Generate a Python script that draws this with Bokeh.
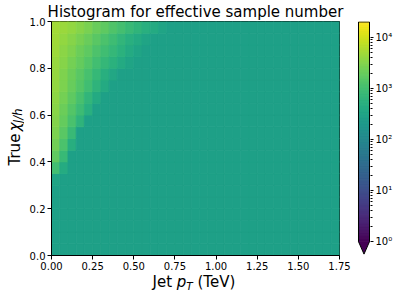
import numpy as np
from bokeh.plotting import figure
from bokeh.models import (Range1d, FixedTicker, NumeralTickFormatter, Label, Title,
                          ColumnDataSource, LogColorMapper)
from bokeh.layouts import row, column
from bokeh.palettes import Viridis256
from bokeh.embed import file_html
from bokeh.resources import INLINE

# ---------------- data ----------------
X_MIN, X_MAX, X_BIN = 0.0, 1.75, 0.05
Y_MIN, Y_MAX, Y_BIN = 0.0, 1.0, 0.05
base_count = 280          # effective sample number in the flat region
# counts of the leftmost bins of the upper rows (named by row's lower y edge);
# bins not listed hold base_count
row_095 = [5000, 4500, 4000, 3300, 2700, 2100, 1700, 1300, 1050, 830, 660, 520, 420, 330]
row_090 = [4800, 4000, 3300, 2600, 2100, 1600, 1200, 910, 690, 520, 420, 330]
row_085 = [4600, 3600, 2900, 2200, 1700, 1250, 950, 720, 550, 420, 330]
row_080 = [4400, 3300, 2500, 1900, 1400, 1000, 720, 550, 420, 330]
row_075 = [4200, 3000, 2200, 1600, 1100, 760, 520, 380]
row_070 = [4000, 2800, 2000, 1400, 950, 630, 420]
row_065 = [3700, 2500, 1700, 1100, 690, 420]
row_060 = [3500, 2200, 1400, 890, 520]
row_055 = [3200, 1900, 1150, 630]
row_050 = [2800, 1600, 830]
row_045 = [2400, 1200, 500]
row_040 = [1800, 790]
row_035 = [1000, 450]
row_030 = [330]
upper_rows = {19: row_095, 18: row_090, 17: row_085, 16: row_080, 15: row_075,
              14: row_070, 13: row_065, 12: row_060, 11: row_055, 10: row_050,
              9: row_045, 8: row_040, 7: row_035, 6: row_030}

title_text = "Histogram for effective sample number"
x_ticks = [0.0, 0.25, 0.5, 0.75, 1.0, 1.25, 1.5, 1.75]
y_ticks = [0.0, 0.2, 0.4, 0.6, 0.8, 1.0]
cb_ticks = [1, 10, 100, 1000, 10000]
cb_labels = {1: "10\u2070", 10: "10\u00b9", 100: "10\u00b2", 1000: "10\u00b3", 10000: "10\u2074"}
c_low, c_high = 1.0, 2.0e4

# ---------------- build cells ----------------
n_x = int(round((X_MAX - X_MIN) / X_BIN))
n_y = int(round((Y_MAX - Y_MIN) / Y_BIN))
counts = np.full((n_y, n_x), float(base_count))
for j, vals in upper_rows.items():
    counts[j, :len(vals)] = vals

ii, jj = np.meshgrid(np.arange(n_x), np.arange(n_y))
src = ColumnDataSource(dict(
    left=np.round(X_MIN + ii * X_BIN, 6).ravel(), right=np.round(X_MIN + (ii + 1) * X_BIN, 6).ravel(),
    bottom=np.round(Y_MIN + jj * Y_BIN, 6).ravel(), top=np.round(Y_MIN + (jj + 1) * Y_BIN, 6).ravel(),
    count=counts.ravel()))

mapper = LogColorMapper(palette=Viridis256, low=c_low, high=c_high)

FONT = "DejaVu Sans"
ROW_H = 273

# ---------------- main heatmap ----------------
p = figure(width=327, height=ROW_H, x_range=Range1d(X_MIN, X_MAX), y_range=Range1d(Y_MIN, Y_MAX),
           output_backend="svg", toolbar_location=None, title=None,
           min_border_left=27, min_border_right=12, min_border_top=20, min_border_bottom=18)
p.quad(left="left", right="right", bottom="bottom", top="top", source=src,
       fill_color={"field": "count", "transform": mapper},
       line_color={"field": "count", "transform": mapper}, line_width=0.8)
p.grid.visible = False
p.outline_line_color = "black"
p.outline_line_width = 1

for ax in (p.xaxis[0], p.yaxis[0]):
    ax.axis_line_color = "black"
    ax.major_tick_line_color = "black"
    ax.major_tick_out = 4
    ax.major_tick_in = 0
    ax.minor_tick_line_color = None
    ax.major_label_text_font = FONT
    ax.major_label_text_font_size = "10px"
    ax.major_label_text_color = "black"
p.xaxis.ticker = FixedTicker(ticks=x_ticks)
p.xaxis.formatter = NumeralTickFormatter(format="0.00")
p.xaxis.major_label_standoff = 2
p.yaxis.ticker = FixedTicker(ticks=y_ticks)
p.yaxis.formatter = NumeralTickFormatter(format="0.0")
p.yaxis.major_label_standoff = 2

p.add_layout(Title(text=title_text, align="center", text_font=FONT, text_font_size="15px",
                   text_font_style="normal", text_color="black", standoff=1), "above")

# ---------------- y label strip: True chi_{J/h} ----------------
YS_W = 24
ys = figure(width=YS_W, height=ROW_H, x_range=Range1d(0, YS_W), y_range=Range1d(0, ROW_H),
            output_backend="svg", toolbar_location=None, title=None,
            x_axis_type=None, y_axis_type=None, min_border=0)
ys.grid.visible = False
ys.outline_line_color = None
# (text, font px, style, baseline x in strip px, advance along text)
yl = [("True", 15, "normal", 19.5, 40.0), ("\u03c7", 15, "italic", 19.5, 9.5),
      ("J/h", 11.5, "italic", 21.2, 15.0)]
pos = ROW_H - 168.0
for t, fs, st, bx, w in yl:
    ys.add_layout(Label(x=bx - 0.33 * fs, y=pos, text=t, angle=np.pi / 2,
                        text_align="left", text_baseline="middle",
                        text_font=FONT, text_font_size=f"{fs}px", text_font_style=st,
                        text_color="black"))
    pos += w

# ---------------- colour bar ----------------
cb = figure(width=46, height=ROW_H, x_range=Range1d(-0.09, 1.09),
            y_range=Range1d(10 ** -0.272, 10 ** 4.31), y_axis_type="log",
            y_axis_location="right", output_backend="svg", toolbar_location=None, title=None,
            min_border_left=6, min_border_right=27, min_border_top=20, min_border_bottom=18)
lv = np.linspace(np.log10(c_low), np.log10(c_high), len(Viridis256) + 1)
cb.quad(left=0, right=1, bottom=10 ** lv[:-1], top=10 ** lv[1:],
        fill_color=list(Viridis256), line_color=list(Viridis256), line_width=0.8)
tip = 10 ** -0.245
cb.patch(x=[0, 1, 0.5], y=[c_low, c_low, tip], fill_color=Viridis256[0], line_color=None)
cb.line(x=[0, 0, 0.5, 1, 1, 0], y=[c_high, c_low, tip, c_low, c_high, c_high],
        line_color="black", line_width=1)
cb.xaxis.visible = False
cb.grid.visible = False
cb.outline_line_color = None
ya = cb.yaxis[0]
ya.ticker = FixedTicker(ticks=cb_ticks,
                        minor_ticks=[k * 10 ** d for d in range(5) for k in range(2, 10)
                                     if k * 10 ** d < c_high])
ya.major_label_overrides = cb_labels
ya.axis_line_color = None
ya.major_tick_line_color = "black"
ya.minor_tick_line_color = "black"
ya.major_tick_out = 3
ya.major_tick_in = 0
ya.minor_tick_out = 2
ya.minor_tick_in = 0
ya.major_label_standoff = 2
ya.major_label_text_font = FONT
ya.major_label_text_font_size = "10px"
ya.major_label_text_color = "black"

# ---------------- x label strip: Jet p_T (TeV) ----------------
XS_H = 19
xs = figure(width=397, height=XS_H, x_range=Range1d(0, 397), y_range=Range1d(0, XS_H),
            output_backend="svg", toolbar_location=None, title=None,
            x_axis_type=None, y_axis_type=None, min_border=0)
xs.grid.visible = False
xs.outline_line_color = None
# (text, font px, style, baseline y in strip px from bottom, advance)
xl = [("Jet", 15, "normal", 5.5, 24.3), ("p", 15, "italic", 5.5, 9.5),
      ("T", 10.5, "italic", 3.0, 11.2), ("(TeV)", 15, "normal", 5.5, 40.3)]
pos = 152.0
for t, fs, st, by, w in xl:
    xs.add_layout(Label(x=pos, y=by + 0.33 * fs, text=t, text_align="left",
                        text_baseline="middle",
                        text_font=FONT, text_font_size=f"{fs}px", text_font_style=st,
                        text_color="black"))
    pos += w

layout = column(row(ys, p, cb), xs)
open("out.html", "w").write(file_html(layout, INLINE))
